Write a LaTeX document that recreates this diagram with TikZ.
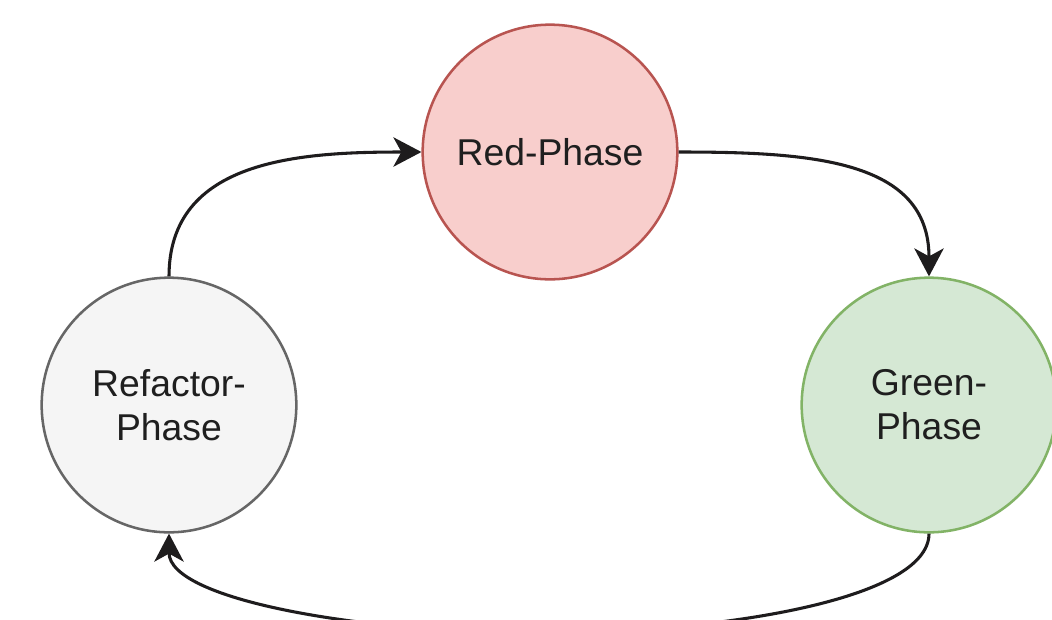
\documentclass[tikz,border=0pt]{standalone}
\usepackage{fontspec}
\setmainfont{Liberation Sans}
\usetikzlibrary{arrows.meta}
\definecolor{redfill}{HTML}{F8CECC}
\definecolor{redline}{HTML}{B85450}
\definecolor{greenfill}{HTML}{D5E8D4}
\definecolor{greenline}{HTML}{82B366}
\definecolor{grayfill}{HTML}{F5F5F5}
\definecolor{grayline}{HTML}{666666}
\definecolor{txt}{HTML}{1F1F1F}
\definecolor{conn}{HTML}{1E1C1D}
\begin{document}
\begin{tikzpicture}[x=0.75pt,y=-0.75pt,
  phase/.style={circle,minimum size=191pt,inner sep=0pt,line width=1.9pt,
    align=center,text=txt,font=\fontsize{28pt}{33pt}\selectfont},
  flow/.style={line width=2.3pt,draw=conn,
    -{Stealth[length=21pt,width=22pt,inset=6pt]}}]
\useasboundingbox (0,0) rectangle (1052,619);
\clip (0,0) rectangle (1052,619);
\fill[white] (0,0) rectangle (1052,619);
\node[phase,fill=redfill,draw=redline] (red) at (550,152) {Red-Phase};
\node[phase,fill=greenfill,draw=greenline] (green) at (929,405) {Green-\\Phase};
\node[phase,fill=grayfill,draw=grayline] (ref) at (169,405) {Refactor-\\Phase};
\coordinate (bot) at (540,633);
\draw[flow] (ref.north) .. controls +(0,-117) and +(-122,0) .. (red.west);
\draw[flow] (red.east) .. controls +(132,0) and +(0,-117) .. (green.north);
\draw[flow] (green.south) .. controls +(0,66) and +(180,0) .. (bot)
  .. controls +(-180,0) and +(0,66) .. (ref.south);
\end{tikzpicture}
\end{document}
